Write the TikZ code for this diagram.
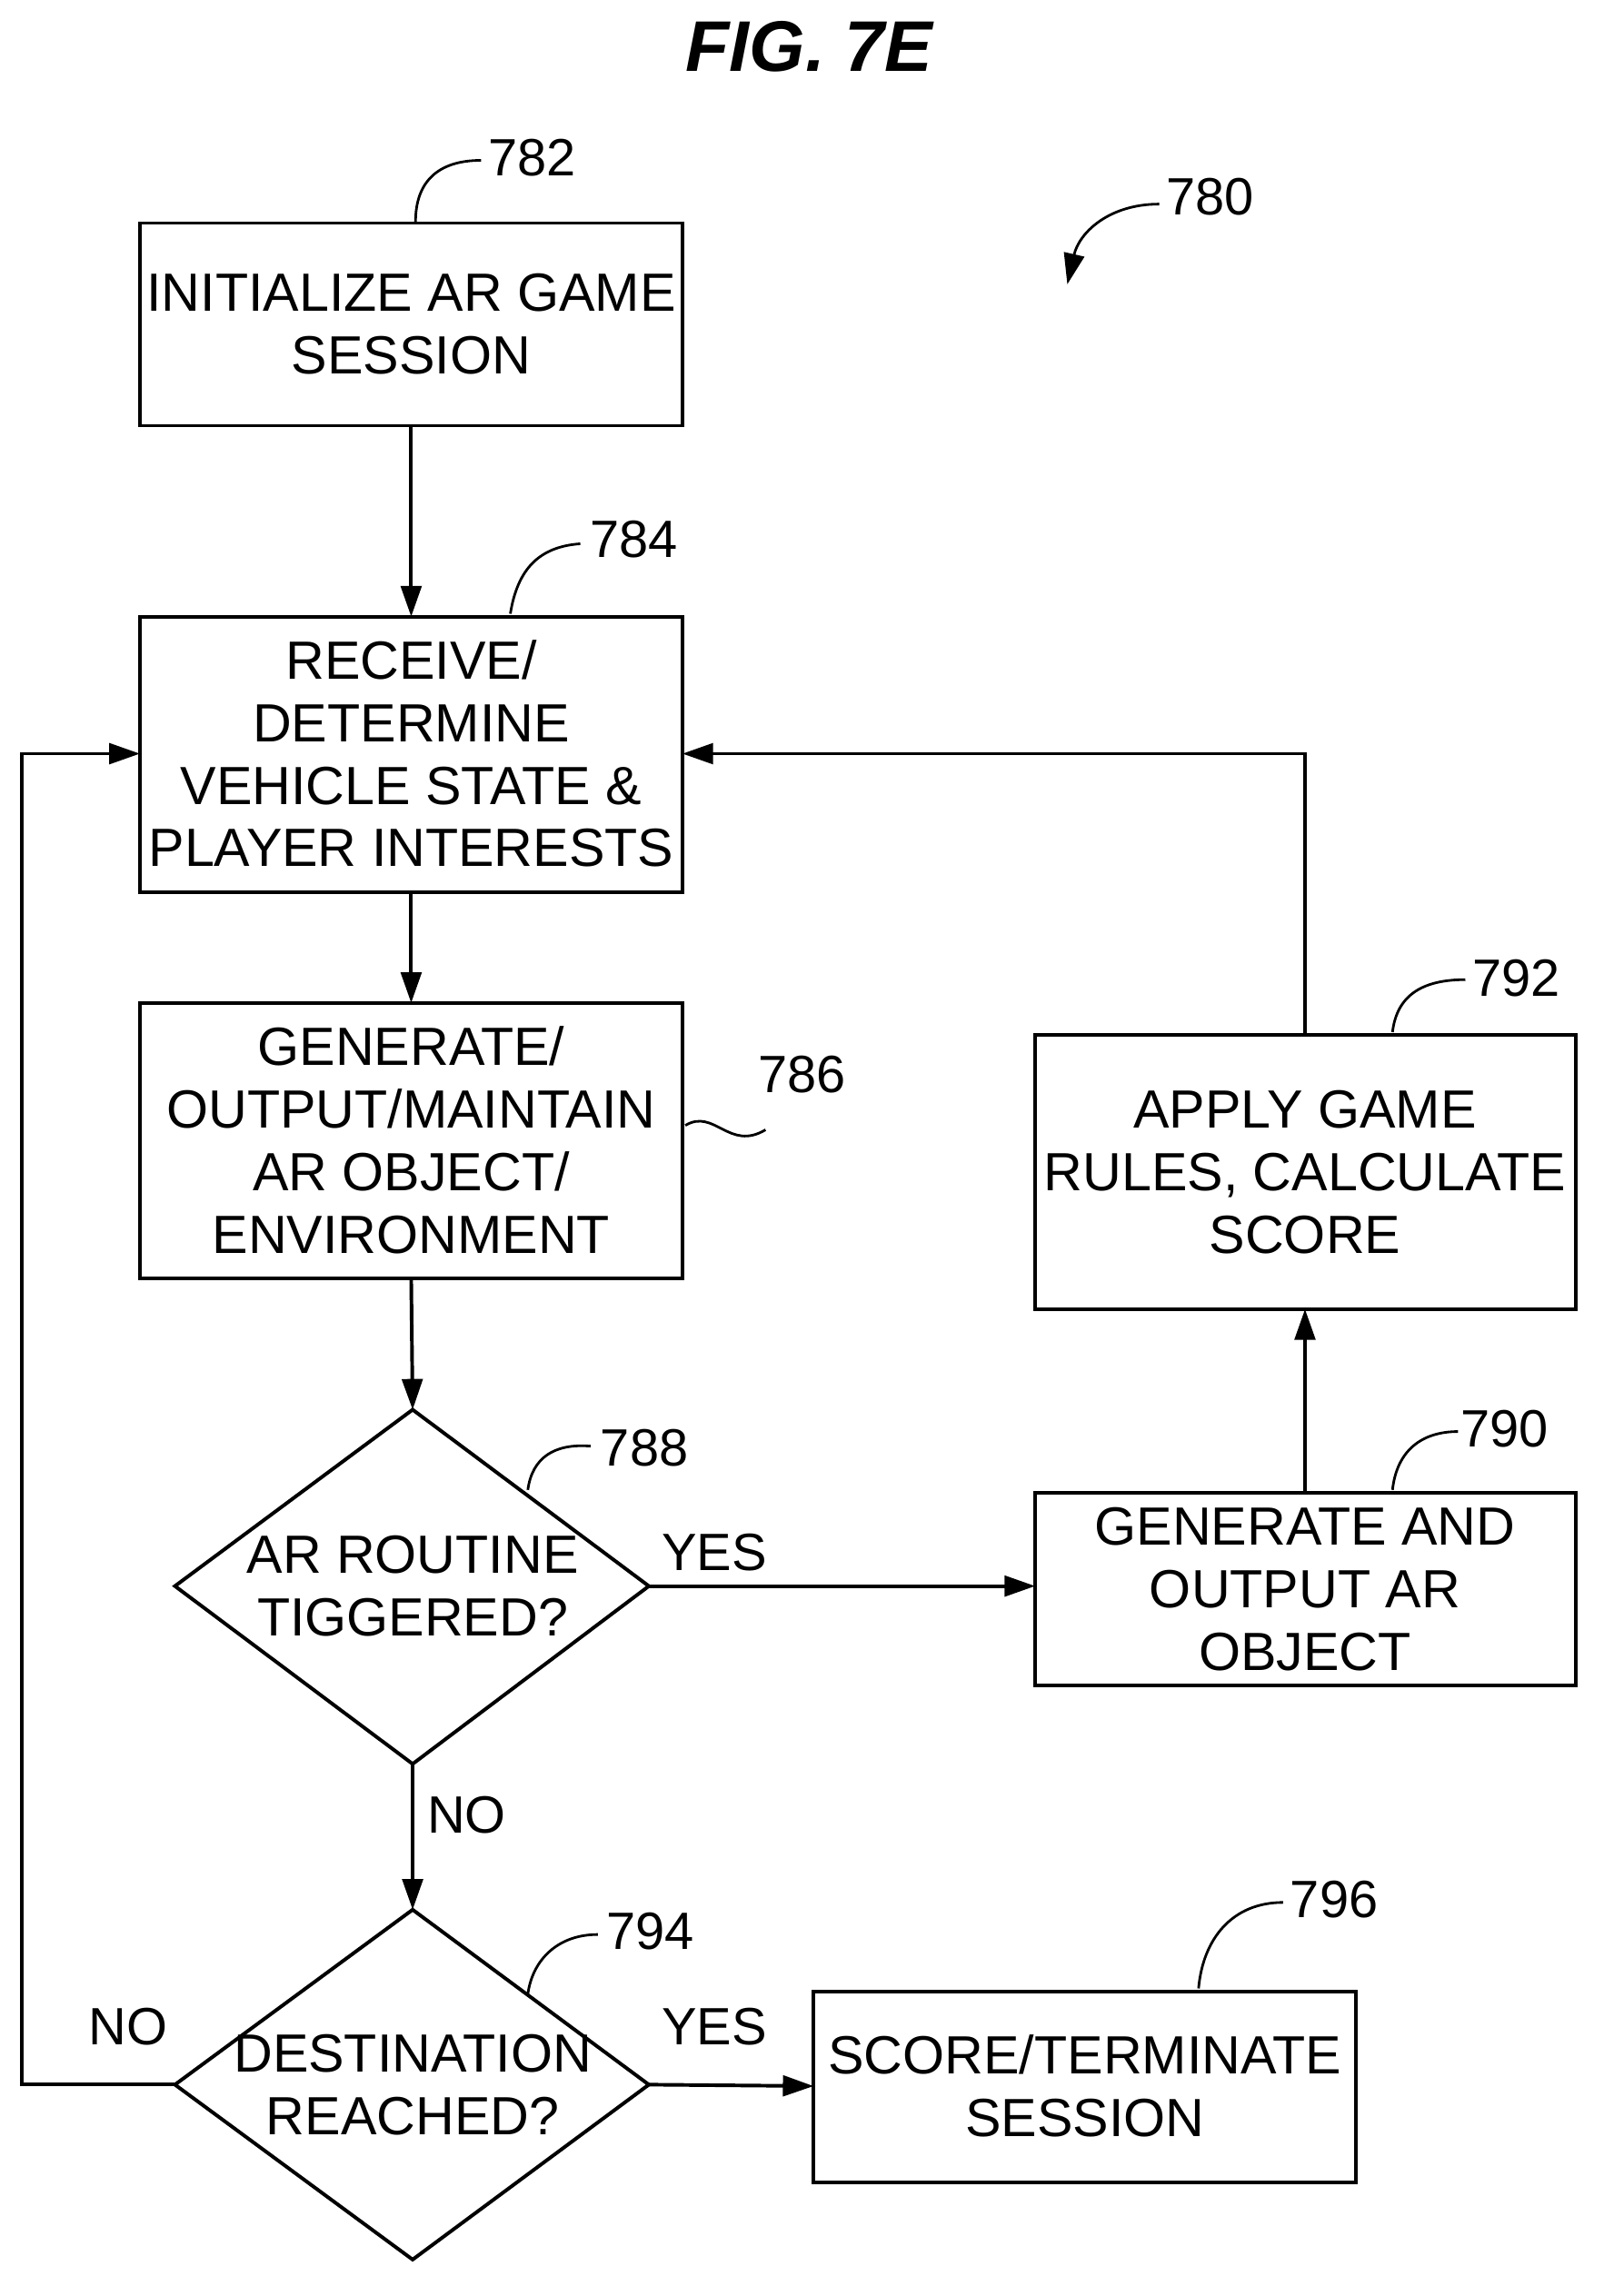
\documentclass[tikz,border=0pt]{standalone}
\usepackage{fontspec}
\setmainfont{Liberation Sans}
\usetikzlibrary{shapes.geometric,arrows.meta}
\begin{document}
\begin{tikzpicture}[x=0.02cm,y=-0.02cm,
  box/.style={align=center,font=\fontsize{21}{24.4}\selectfont,inner sep=0pt},
  lbl/.style={font=\fontsize{20.5}{24}\selectfont},
  ar/.style={line width=1.4pt,-{Triangle[length=12pt,width=8pt]}},
  ln/.style={line width=1pt}]
\useasboundingbox (0,0) rectangle (1100,1575);
\node[font=\fontsize{28}{32}\bfseries\itshape\selectfont] (t) at (555,32) {FIG. 7E};
\draw[line width=1.4pt] (96,153) rectangle (468,292);
\node[box] (b782) at (282,222.5) {INITIALIZE AR GAME\\SESSION};
\coordinate (b782s) at (282,292);
\draw[line width=1.4pt] (96,423) rectangle (468,612);
\node[box] (b784) at (282,517) {RECEIVE/\\DETERMINE\\VEHICLE STATE \&\\PLAYER INTERESTS};
\coordinate (b784n) at (282,423); \coordinate (b784s) at (282,612);
\coordinate (b784w) at (96,517); \coordinate (b784e) at (468,517);
\draw[line width=1.4pt] (96,688) rectangle (468,877);
\node[box] (b786) at (282,782) {GENERATE/\\OUTPUT/MAINTAIN\\AR OBJECT/\\ENVIRONMENT};
\coordinate (b786n) at (282,688); \coordinate (b786s) at (282,877);
\draw[line width=1.4pt] (283,967) -- (445,1088) -- (283,1210) -- (120,1088) -- cycle;
\node[box] (d788) at (283,1088) {AR ROUTINE\\TIGGERED?};
\coordinate (d788n) at (283,967); \coordinate (d788s) at (283,1210); \coordinate (d788e) at (445,1088);
\draw[line width=1.4pt] (710,1024) rectangle (1081,1156);
\node[box] (b790) at (895,1090) {GENERATE AND\\OUTPUT AR\\OBJECT};
\coordinate (b790w) at (710,1088); \coordinate (b790n) at (895,1024);
\draw[line width=1.4pt] (710,710) rectangle (1081,898);
\node[box] (b792) at (895,804) {APPLY GAME\\RULES, CALCULATE\\SCORE};
\coordinate (b792s) at (895,898); \coordinate (b792n) at (895,710);
\draw[line width=1.4pt] (283,1310) -- (445,1430) -- (283,1550) -- (120,1430) -- cycle;
\node[box] (d794) at (283,1430) {DESTINATION\\REACHED?};
\coordinate (d794n) at (283,1310); \coordinate (d794e) at (445,1430); \coordinate (d794w) at (120,1430);
\draw[line width=1.4pt] (558,1366) rectangle (930,1497);
\node[box] (b796) at (744,1431) {SCORE/TERMINATE\\SESSION};
\coordinate (b796w) at (558,1431);
\coordinate (c1) at (15,1430); \coordinate (c2) at (15,517); \coordinate (c3) at (895,517);
\draw[ar] (b782s) -- (b784n);
\draw[ar] (b784s) -- (b786n);
\draw[ar] (b786s) -- (d788n);
\draw[ar] (d788e) -- (b790w);
\draw[ar] (b790n) -- (b792s);
\draw[ar] (b792n) -- (c3) -- (b784e);
\draw[ar] (d788s) -- (d794n);
\draw[ar] (d794e) -- (b796w);
\draw[ar] (d794w) -- (c1) -- (c2) -- (b784w);
\node[lbl] (y1) at (490,1065) {YES};
\node[lbl] (y2) at (490,1390) {YES};
\node[lbl] (n1) at (320,1245) {NO};
\node[lbl] (n2) at (88,1390) {NO};
\node[lbl] (l782) at (365,108) {782};
\draw[ln] (285,152) .. controls (285,125) and (300,110) .. (330,110);
\node[lbl] (l784) at (435,370) {784};
\draw[ln] (350,421) .. controls (355,390) and (370,375) .. (398,373);
\node[lbl] (l786) at (550,737) {786};
\draw[ln] (470,772) .. controls (490,760) and (500,790) .. (525,775);
\node[lbl] (l788) at (442,993) {788};
\draw[ln] (362,1022) .. controls (365,1000) and (380,990) .. (405,992);
\node[lbl] (l790) at (1032,980) {790};
\draw[ln] (955,1022) .. controls (958,995) and (975,982) .. (1000,982);
\node[lbl] (l792) at (1040,671) {792};
\draw[ln] (955,708) .. controls (958,683) and (975,672) .. (1005,672);
\node[lbl] (l794) at (446,1325) {794};
\draw[ln] (362,1368) .. controls (365,1345) and (382,1327) .. (410,1327);
\node[lbl] (l796) at (915,1303) {796};
\draw[ln] (822,1364) .. controls (825,1330) and (845,1305) .. (880,1305);
\node[lbl] (l780) at (830,135) {780};
\draw[ln,-{Triangle[length=12pt,width=8pt]}] (795,140) .. controls (760,140) and (740,160) .. (732,195);
\end{tikzpicture}
\end{document}
